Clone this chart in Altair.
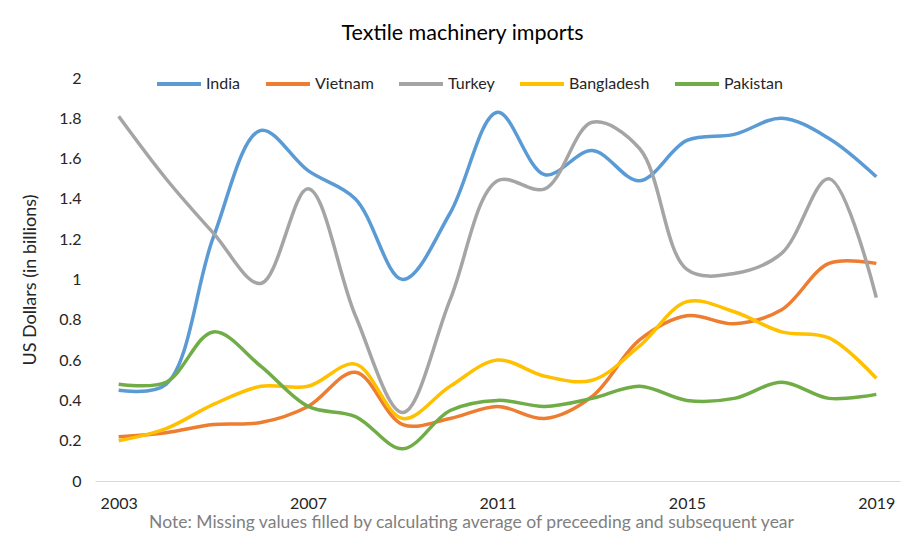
import altair as alt
import pandas as pd

years = list(range(2003, 2020))
india = [0.45, 0.48, 1.21, 1.74, 1.54, 1.40, 1.00, 1.33, 1.83, 1.52, 1.64, 1.49, 1.69, 1.72, 1.80, 1.70, 1.51]
vietnam = [0.22, 0.24, 0.28, 0.29, 0.37, 0.54, 0.28, 0.31, 0.37, 0.31, 0.42, 0.70, 0.82, 0.78, 0.85, 1.08, 1.08]
turkey = [1.81, 1.50, 1.23, 0.98, 1.45, 0.82, 0.34, 0.90, 1.49, 1.45, 1.78, 1.65, 1.05, 1.03, 1.13, 1.50, 0.91]
bangladesh = [0.20, 0.26, 0.38, 0.47, 0.47, 0.58, 0.31, 0.47, 0.60, 0.52, 0.50, 0.67, 0.89, 0.84, 0.74, 0.71, 0.51]
pakistan = [0.48, 0.49, 0.74, 0.57, 0.37, 0.32, 0.16, 0.35, 0.40, 0.37, 0.41, 0.47, 0.40, 0.41, 0.49, 0.41, 0.43]

countries = ["India", "Vietnam", "Turkey", "Bangladesh", "Pakistan"]
colors = ["#5B9BD5", "#ED7D31", "#A5A5A5", "#FFC000", "#70AD47"]
series = [india, vietnam, turkey, bangladesh, pakistan]

rows = []
for i, (c, vals) in enumerate(zip(countries, series)):
    for y, v in zip(years, vals):
        rows.append({"Year": y, "Country": c, "Value": v, "ord": i})
df = pd.DataFrame(rows)

FONT = "Lato"

chart = alt.Chart(df).mark_line(interpolate="catmull-rom", strokeWidth=3.5).encode(
    x=alt.X("Year:Q",
            scale=alt.Scale(domain=[2002.5, 2019.5], nice=False, zero=False),
            axis=alt.Axis(values=[2003, 2007, 2011, 2015, 2019], format="d",
                          ticks=False, grid=False, domainColor="#d9d9d9",
                          labelFontSize=16, labelColor="#262626", labelPadding=14,
                          title="Note: Missing values filled by calculating average of preceeding and subsequent year",
                          titleFontSize=17.5, titleFontWeight="normal", titleColor="#808080",
                          titlePadding=2, titleX=376, titleAlign="center")),
    y=alt.Y("Value:Q",
            scale=alt.Scale(domain=[0, 2], nice=False),
            axis=alt.Axis(values=[0, 0.2, 0.4, 0.6, 0.8, 1, 1.2, 1.4, 1.6, 1.8, 2], format="~g",
                          ticks=False, grid=False, domain=False,
                          labelFontSize=16, labelColor="#262626", labelPadding=14,
                          title="US Dollars (in billions)", titleFontSize=18,
                          titleFontWeight="normal", titleColor="#262626", titlePadding=19)),
    color=alt.Color("Country:N",
                    scale=alt.Scale(domain=countries, range=colors),
                    legend=alt.Legend(orient="none", direction="horizontal", title=None,
                                      legendX=60, legendY=-18,
                                      symbolType="stroke", symbolSize=1936, symbolStrokeWidth=4,
                                      labelFontSize=16, labelColor="#262626", labelFont=FONT,
                                      labelOffset=3, columnPadding=17)),
    order=alt.Order("ord:Q"),
    detail="Country:N",
).properties(
    width=805,
    height=403,
    padding={"left": 87, "top": 70, "right": 8, "bottom": 51},
    autosize=alt.AutoSizeParams(type="none"),
    title=alt.TitleParams("Textile machinery imports", fontSize=21.5, fontWeight="normal",
                          font=FONT, color="#000000", anchor="middle", dx=-35, offset=16),
).configure_view(stroke=None).configure_axis(labelFont=FONT, titleFont=FONT)

chart.save("out.html", embed_options={"renderer": "svg", "actions": False})
